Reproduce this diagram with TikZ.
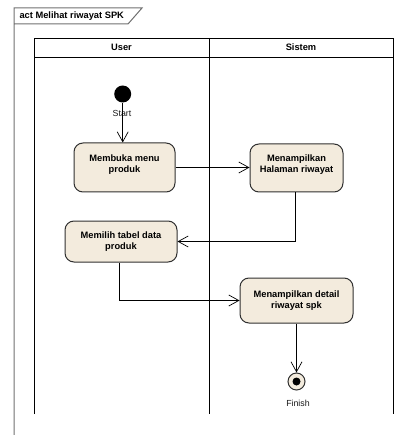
\documentclass[tikz,border=0pt]{standalone}
\usepackage{fontspec}
\setmainfont{Liberation Sans}
\usetikzlibrary{arrows.meta}
\definecolor{cream}{HTML}{F3EBDD}
\definecolor{edge}{HTML}{303030}
\definecolor{framecol}{HTML}{707070}
\begin{document}
\begin{tikzpicture}[x=1pt,y=-1pt,
  actbox/.style={draw=edge, line width=1pt, fill=cream, rounded corners=9pt,
    align=center, inner sep=0pt, font=\bfseries\fontsize{9.3}{11}\selectfont},
  hdr/.style={font=\bfseries\fontsize{9.3}{11}\selectfont},
  lbl/.style={font=\fontsize{8.8}{10}\selectfont, text=black!90},
  lane/.style={draw=black, line width=0.8pt},
  arr/.style={draw=black, line width=0.7pt, -{Straight Barb[length=10pt,width=11pt,line width=0.7pt]}}
]
\useasboundingbox (0,0) rectangle (406,435);
% frame
\draw[framecol, line width=1pt] (14,435) -- (14,8) -- (142,8) -- (128,24) -- (14,24);
\node[hdr, anchor=west] (title) at (16,16) {act Melihat riwayat SPK};
% swimlanes
\draw[lane] (34,414) -- (34,38) -- (393,38) -- (393,414);
\draw[lane] (34,57) -- (393,57);
\draw[lane] (209,38) -- (209,414);
\node[hdr] (user) at (121.5,47.5) {User};
\node[hdr] (sistem) at (301,47.5) {Sistem};
% nodes
\node[circle, fill=black, minimum size=17pt, inner sep=0pt] (start) at (122.7,94) {};
\node[lbl] (startl) at (122,113) {Start};
\node[actbox, minimum width=101pt, minimum height=49pt] (membuka) at (124.5,167.5) {Membuka menu\\produk\\[-3pt]};
\node[actbox, minimum width=93pt, minimum height=48pt] (halaman) at (296.5,168) {Menampilkan\\Halaman riwayat\\[-3pt]};
\node[actbox, minimum width=112pt, minimum height=41pt] (memilih) at (121,241.5) {Memilih tabel data\\produk};
\node[actbox, minimum width=113pt, minimum height=45pt] (detail) at (296.5,300.5) {Menampilkan detail\\riwayat spk};
\node[circle, draw=edge, line width=1pt, fill=cream, minimum size=17pt, inner sep=0pt] (finish) at (296.5,381.5) {};
\node[circle, fill=black, minimum size=8pt, inner sep=0pt] (finishdot) at (finish.center) {};
\node[lbl] (finishl) at (298,403) {Finish};
% connectors
\coordinate (m1) at (295,192);
\coordinate (m2) at (119,262);
\draw[arr] (start.south) -- (start.south |- membuka.north);
\draw[arr] (membuka.east) -- (halaman.west |- membuka.east);
\draw[arr] (halaman.south -| m1) |- (memilih.east);
\draw[arr] (memilih.south -| m2) |- (detail.west);
\draw[arr] (detail.south) -- (finish.north);
\end{tikzpicture}
\end{document}
